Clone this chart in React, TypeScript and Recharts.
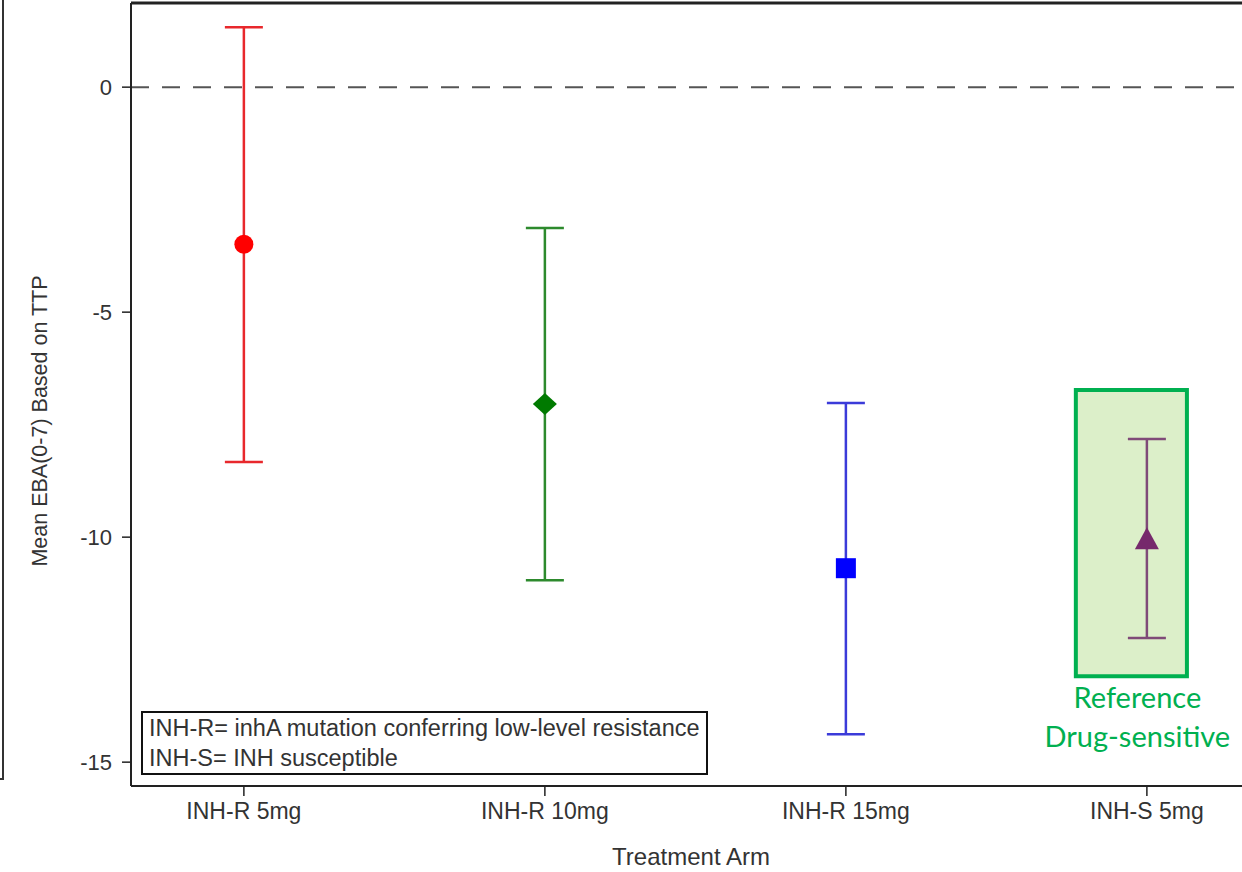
import React from 'react';
import {
  ComposedChart,
  Scatter,
  ErrorBar,
  XAxis,
  YAxis,
  ReferenceLine,
  ReferenceArea,
} from 'recharts';

// ---- data ----
const categories = ['INH-R 5mg', 'INH-R 10mg', 'INH-R 15mg', 'INH-S 5mg'];
const means = [-3.49, -7.04, -10.69, -10.07];
const upperCI = [1.33, -3.13, -7.02, -7.82];
const lowerCI = [-8.33, -10.96, -14.38, -12.24];
const yTicks = [-15, -10, -5, 0];
const legendLines = [
  'INH-R= inhA mutation conferring low-level resistance',
  'INH-S= INH susceptible',
];
const refLabelLines = ['Reference', 'Drug-sensitive'];

const X_MIN = -0.375;
const X_MAX = 3.316;
const Y_MIN = -15.53;
const Y_MAX = 1.87;

const seriesStyles = [
  { line: '#e8282c', marker: '#ff0000', shape: 'circle' },
  { line: '#2d8a2d', marker: '#007a00', shape: 'diamond' },
  { line: '#3b3bd9', marker: '#0000ff', shape: 'square' },
  { line: '#7f4a78', marker: '#76296c', shape: 'triangle' },
];

const makeData = (i: number) => [
  {
    x: i,
    y: means[i],
    err: [means[i] - lowerCI[i], upperCI[i] - means[i]],
  },
];

const Marker = (props: any) => {
  const { cx, cy, kind, color } = props;
  if (cx == null || cy == null) return null;
  if (kind === 'circle') return <circle cx={cx} cy={cy} r={9.5} fill={color} />;
  if (kind === 'diamond')
    return (
      <polygon
        points={`${cx},${cy - 11} ${cx + 12},${cy} ${cx},${cy + 11} ${cx - 12},${cy}`}
        fill={color}
      />
    );
  if (kind === 'square')
    return <rect x={cx - 10} y={cy - 10} width={20} height={20} fill={color} />;
  return (
    <polygon
      points={`${cx},${cy - 13} ${cx + 12},${cy + 9} ${cx - 12},${cy + 9}`}
      fill={color}
    />
  );
};

const RefLabel = (props: any) => {
  const vb = props.viewBox || {};
  const cx = vb.x + vb.width / 2 + 6;
  const by = vb.y + vb.height;
  return (
    <g>
      {refLabelLines.map((t, i) => (
        <text
          key={t}
          x={cx}
          y={by + 32 + i * 39}
          textAnchor="middle"
          fill="#00b050"
          fontSize={29}
          fontFamily="Lato, 'Open Sans', sans-serif"
        >
          {t}
        </text>
      ))}
    </g>
  );
};

const font = "'Liberation Sans', Arial, sans-serif";

export default function App() {
  return (
    <div
      style={{
        position: 'absolute',
        left: 0,
        top: 0,
        width: 1242,
        height: 872,
        overflow: 'hidden',
        background: '#fff',
      }}
    >
      <ComposedChart
        width={1242}
        height={872}
        margin={{ top: 3, right: 0, bottom: 0, left: 0 }}
      >
        <XAxis
          type="number"
          dataKey="x"
          domain={[X_MIN, X_MAX]}
          allowDataOverflow
          ticks={[0, 1, 2, 3]}
          tickFormatter={(v: number) => categories[v] ?? ''}
          height={86}
          tickSize={10}
          tickMargin={7}
          stroke="#222"
          axisLine={{ stroke: '#222', strokeWidth: 2 }}
          tickLine={{ stroke: '#222', strokeWidth: 1.5 }}
          tick={{ fill: '#333', fontSize: 23, fontFamily: font }}
          interval={0}
        />
        <YAxis
          type="number"
          domain={[Y_MIN, Y_MAX]}
          allowDataOverflow
          ticks={yTicks}
          width={131}
          tickSize={9}
          tickMargin={10}
          axisLine={{ stroke: '#222', strokeWidth: 2 }}
          tickLine={{ stroke: '#222', strokeWidth: 1.5 }}
          tick={{ fill: '#333', fontSize: 22, fontFamily: font }}
        />
        <ReferenceLine y={Y_MAX} stroke="#222" strokeWidth={3} />
        <ReferenceLine y={0} stroke="#555" strokeWidth={2} strokeDasharray="18 13" />
        <ReferenceArea
          x1={2.764}
          x2={3.133}
          y1={-6.73}
          y2={-13.09}
          fill="#dcefc9"
          fillOpacity={1}
          stroke="#00b050"
          strokeWidth={4}
          label={<RefLabel />}
        />
        {seriesStyles.map((s, i) => (
          <Scatter
            key={categories[i]}
            data={makeData(i)}
            dataKey="y"
            isAnimationActive={false}
            shape={(p: any) => <Marker {...p} kind={s.shape} color={s.marker} />}
          >
            <ErrorBar
              dataKey="err"
              direction="y"
              width={19}
              stroke={s.line}
              strokeWidth={2.5}
              isAnimationActive={false}
            />
          </Scatter>
        ))}
        <text
          x={40}
          y={421}
          transform="rotate(-90 40 421)"
          textAnchor="middle"
          dominantBaseline="central"
          fill="#333"
          fontSize={21.5}
          fontFamily={font}
        >
          Mean EBA(0-7) Based on TTP
        </text>
        <text
          x={691}
          y={865}
          textAnchor="middle"
          fill="#333"
          fontSize={24}
          fontFamily={font}
        >
          Treatment Arm
        </text>
      </ComposedChart>
      <div
        style={{
          position: 'absolute',
          left: 141,
          top: 711,
          width: 557,
          height: 60,
          border: '2px solid #111',
          background: '#fff',
          fontFamily: font,
          fontSize: 23.5,
          color: '#333',
          lineHeight: '30px',
          paddingLeft: 6,
          boxSizing: 'content-box',
          whiteSpace: 'nowrap',
        }}
      >
        {legendLines.map((t) => (
          <div key={t}>{t}</div>
        ))}
      </div>
      <div
        style={{
          position: 'absolute',
          left: 2,
          top: 0,
          width: 2,
          height: 780,
          background: '#333',
        }}
      />
      <div
        style={{
          position: 'absolute',
          left: 0,
          top: 778,
          width: 4,
          height: 2,
          background: '#333',
        }}
      />
    </div>
  );
}
